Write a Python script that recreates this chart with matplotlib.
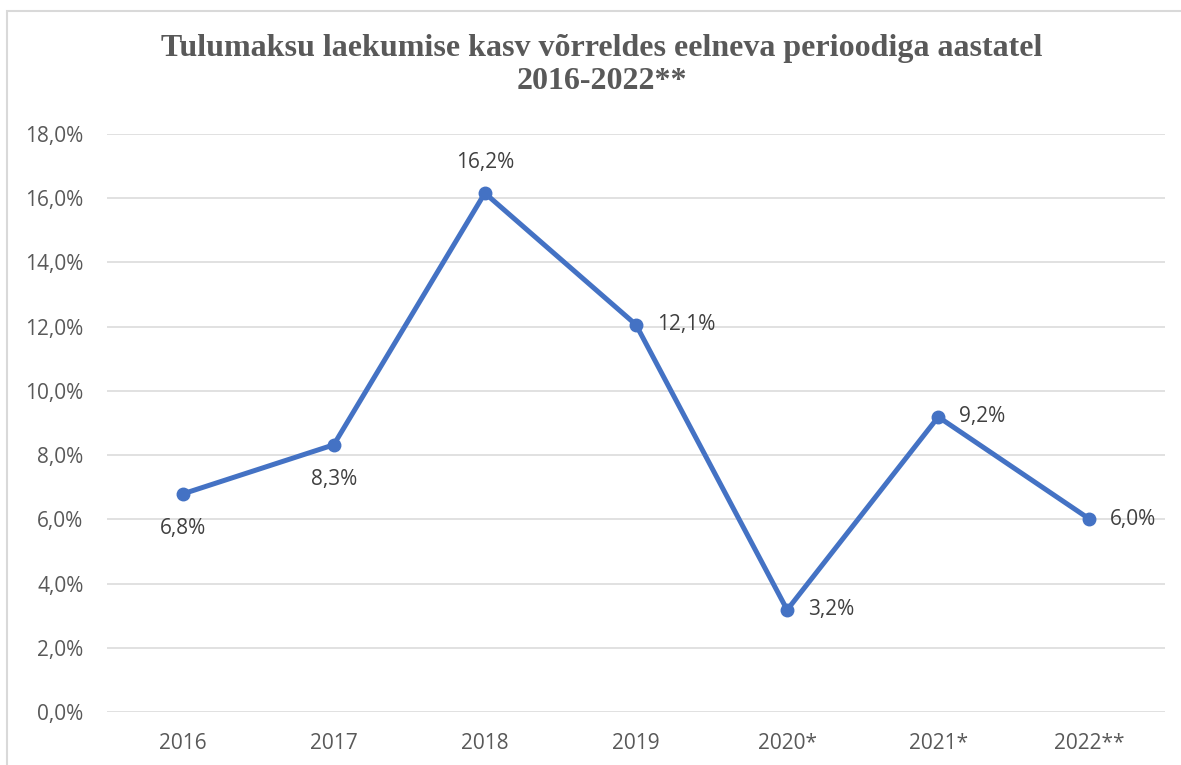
import matplotlib
matplotlib.use("Agg")
import matplotlib.pyplot as plt
from matplotlib.patches import Rectangle

categories = ["2016", "2017", "2018", "2019", "2020*", "2021*", "2022**"]
values = [6.79, 8.32, 16.16, 12.06, 3.18, 9.19, 6.01]
label_pos = ["below", "below", "above", "right", "right", "right", "right"]
yticks = [0, 2, 4, 6, 8, 10, 12, 14, 16, 18]
title = "Tulumaksu laekumise kasv võrreldes eelneva perioodiga aastatel\n2016-2022**"

W, H = 1181, 765
fig = plt.figure(figsize=(W / 100, H / 100), dpi=100)
fig.patch.set_facecolor("white")

# chart border
fig.add_artist(Rectangle((7 / W, -0.05), 1.2, 1 - 11 / H + 0.05, transform=fig.transFigure,
                         fill=False, edgecolor="#D9D9D9", linewidth=1.5))

ax = fig.add_axes([107 / W, 1 - 712 / H, (1165 - 107) / W, (712 - 134) / H])
x = list(range(len(categories)))
ax.plot(x, values, color="#4472C4", linewidth=3.6, marker="o", markersize=9,
        solid_capstyle="round", zorder=3, clip_on=False)

FS = 15
ax.set_xlim(-0.5, len(categories) - 0.5)
ax.set_ylim(0, 18)
ax.set_yticks(yticks)
ax.set_yticklabels([f"{v:.1f}%".replace(".", ",") for v in yticks])
ax.set_xticks(x)
ax.set_xticklabels(categories)
ax.grid(axis="y", color="#D9D9D9", linewidth=1.1)
ax.set_axisbelow(True)
for s in ax.spines.values():
    s.set_visible(False)
ax.tick_params(axis="both", length=0, labelsize=FS, labelcolor="#595959")
ax.tick_params(axis="y", pad=17)
ax.tick_params(axis="x", pad=15)
for lab in ax.get_xticklabels() + ax.get_yticklabels():
    lab.set_fontfamily("Open Sans")

for xi, v, p in zip(x, values, label_pos):
    txt = f"{v:.1f}%".replace(".", ",")
    if p == "below":
        ax.annotate(txt, (xi, v), xytext=(0, -25), textcoords="offset points",
                    ha="center", va="center", fontsize=FS, color="#404040", family="Open Sans")
    elif p == "above":
        ax.annotate(txt, (xi, v), xytext=(0, 22), textcoords="offset points",
                    ha="center", va="center", fontsize=FS, color="#404040", family="Open Sans")
    else:
        ax.annotate(txt, (xi, v), xytext=(15, 0), textcoords="offset points",
                    ha="left", va="center", fontsize=FS, color="#404040", family="Open Sans")

fig.text(602 / W, 1 - 65 / H, title, ha="center", va="center", fontsize=23,
         fontweight="bold", family="Liberation Serif", color="#595959", linespacing=1.15)

fig.savefig("out.png", dpi=100)
